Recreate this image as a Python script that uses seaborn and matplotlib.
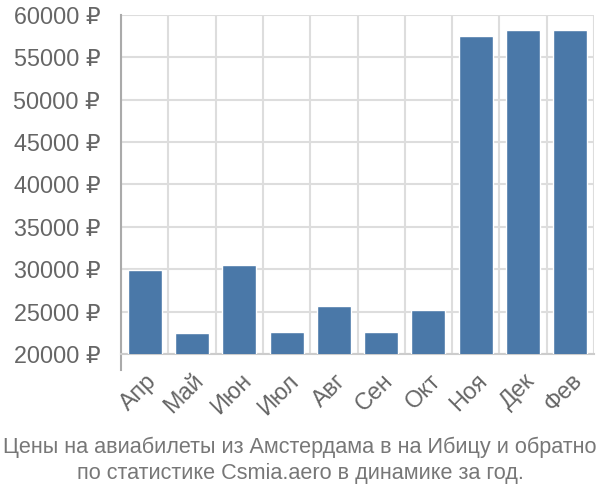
import matplotlib
matplotlib.use("Agg")
import matplotlib.pyplot as plt
import seaborn as sns
import pandas as pd
import numpy as np

months = ["Апр", "Май", "Июн", "Июл", "Авг", "Сен", "Окт", "Ноя", "Дек", "Фев"]
prices = [29900, 22450, 30450, 22600, 25700, 22600, 25150, 57450, 58250, 58250]
yticks = [20000, 25000, 30000, 35000, 40000, 45000, 50000, 55000, 60000]
caption = ["Цены на авиабилеты из Амстердама в на Ибицу и обратно",
           "по статистике Csmia.aero в динамике за год."]

sns.set_theme(style="white")
plt.rcParams['font.family'] = ['Liberation Sans', 'DejaVu Sans']

df = pd.DataFrame({"month": months, "price": prices})

fig = plt.figure(figsize=(6, 5), dpi=100)
ax = fig.add_axes([121/600, 1-354/500, (594-121)/600, (354-14.7)/500])

sns.barplot(data=df, x="month", y="price", color="#4a78a8", width=0.72,
            saturation=1, ax=ax, zorder=3)

ax.set_ylim(20000, 60000)
ax.set_xlim(-0.5, len(months) - 0.5)
ax.set_yticks(yticks)
ax.set_yticklabels([f"{v} ₽" for v in yticks], fontsize=16.8, color="#666666")
ax.set_xlabel("")
ax.set_ylabel("")

ax.set_xticks(np.arange(len(months)))
ax.set_xticklabels(months, rotation=45, ha="right", rotation_mode="anchor",
                   fontsize=16.8, color="#666666")
ax.tick_params(axis="x", which="major", length=0, pad=11)
ax.set_xticks(np.arange(len(months) + 1) - 0.5, minor=True)
ax.tick_params(axis="x", which="minor", length=15, width=1.5, color="#dddddd")
ax.tick_params(axis="y", which="major", length=12, width=1.5, color="#dddddd", pad=3)

ax.grid(True, axis="y", which="major", color="#dddddd", linewidth=1.5, zorder=0)
ax.grid(True, axis="x", which="minor", color="#dddddd", linewidth=1.5, zorder=0)
ax.set_axisbelow(True)

for s in ["top", "right"]:
    ax.spines[s].set_visible(False)
ax.spines["bottom"].set_color("#cccccc")
ax.spines["bottom"].set_linewidth(1.5)
ax.spines["left"].set_color("#aaaaaa")
ax.spines["left"].set_linewidth(1.5)
ax.spines["left"].set_bounds(18100, 60000)

fig.text(0.5, 1-447/500, caption[0], ha="center", va="center", fontsize=15.6, color="#777777")
fig.text(0.5, 1-474/500, caption[1], ha="center", va="center", fontsize=15.6, color="#777777")

fig.savefig("out.png", dpi=100)
